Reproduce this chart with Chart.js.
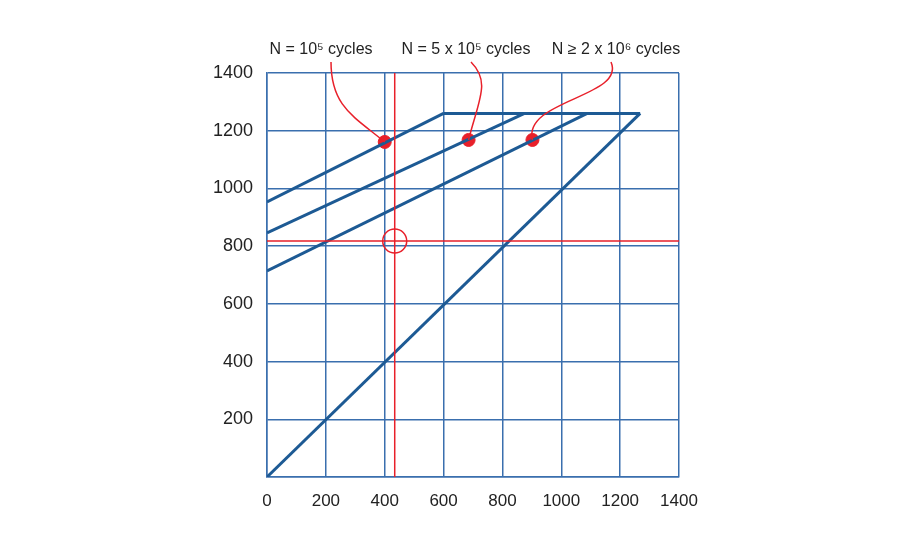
<!DOCTYPE html>
<html><head><meta charset="utf-8">
<script src="https://cdn.jsdelivr.net/npm/chart.js@4"></script>
<style>body{margin:0;background:#fff}#wrap{width:900px;height:550px}</style>
</head><body><div id="wrap"><canvas id="c"></canvas></div>
<script>
const xTicks = [0, 200, 400, 600, 800, 1000, 1200, 1400];
const yTicks = [0, 200, 400, 600, 800, 1000, 1200, 1400];
const diagonal = [[0, 0], [1268, 1260]];
const topLine = [[600, 1260], [1268, 1260]];
const line1e5 = [[0, 953], [600, 1260]];
const line5e5 = [[0, 846], [875, 1260]];
const line2e6 = [[0, 714], [1088, 1260]];
const points = [[400, 1161], [685, 1168], [902, 1168]];
const labels = ["N = 10⁵ cycles", "N = 5 x 10⁵ cycles", "N ≥ 2 x 10⁶ cycles"];
const redX = 434, redY = 818;

const blue = "#1d5a94", grid = "#3a6fae", red = "#e8202a";
const pts = a => a.map(p => ({ x: p[0], y: p[1] }));
const lineDs = d => ({ data: pts(d), borderColor: blue, borderWidth: 3, pointRadius: 0, showLine: true });

const overlay = {
  id: "overlay",
  afterDatasetsDraw(ch) {
    const { ctx, scales: { x, y }, chartArea: a } = ch;
    ctx.save();
    ctx.strokeStyle = red; ctx.lineWidth = 1.5;
    ctx.beginPath();
    ctx.moveTo(x.getPixelForValue(redX), a.top); ctx.lineTo(x.getPixelForValue(redX), a.bottom);
    ctx.moveTo(a.left, y.getPixelForValue(redY)); ctx.lineTo(a.right, y.getPixelForValue(redY));
    ctx.stroke();
    ctx.beginPath();
    ctx.arc(x.getPixelForValue(redX), y.getPixelForValue(redY), 12, 0, Math.PI * 2);
    ctx.stroke();
    ctx.fillStyle = "#222"; ctx.font = "16px 'Liberation Sans', Arial";
    ctx.textAlign = "center"; ctx.textBaseline = "middle";
    const lx = [321, 466, 616];
    const bend = [[0, 45, -30, 25], [20, 20, 10, 40], [15, 35, -10, 40]];
    points.forEach((p, i) => {
      ctx.fillText(labels[i], lx[i], 50);
      const px = x.getPixelForValue(p[0]), py = y.getPixelForValue(p[1]);
      const sx = lx[i] + (i === 0 ? 10 : i === 1 ? 5 : -5), sy = 62;
      ctx.beginPath();
      ctx.moveTo(sx, sy);
      ctx.bezierCurveTo(sx + bend[i][0], sy + bend[i][1], px + bend[i][2], py - bend[i][3], px, py);
      ctx.stroke();
    });
    ctx.restore();
  }
};

new Chart(document.getElementById("c"), {
  type: "scatter",
  data: {
    datasets: [
      lineDs(diagonal), lineDs(topLine), lineDs(line1e5), lineDs(line5e5), lineDs(line2e6),
      { data: pts(points), pointRadius: 6.5, pointBackgroundColor: red, pointBorderColor: red, showLine: false }
    ]
  },
  options: {
    responsive: true, maintainAspectRatio: false, animation: false,
    layout: { padding: { left: 195, right: 221, top: 73, bottom: 20 } },
    plugins: { legend: { display: false }, tooltip: { enabled: false } },
    scales: {
      x: {
        min: 0, max: 1400,
        afterBuildTicks: s => { s.ticks = xTicks.map(v => ({ value: v })); },
        grid: { color: grid, lineWidth: 1.5, drawTicks: false },
        border: { color: grid, width: 1.5 },
        ticks: { color: "#222", font: { size: 17, family: "'Liberation Sans', Arial" }, padding: 14, maxRotation: 0,
          callback: v => String(v) },
        afterFit: s => { s.height = 53; }
      },
      y: {
        min: 0, max: 1400,
        afterBuildTicks: s => { s.ticks = yTicks.map(v => ({ value: v })); },
        grid: { color: grid, lineWidth: 1.5, drawTicks: false },
        border: { color: grid, width: 1.5 },
        ticks: { color: "#222", font: { size: 18, family: "'Liberation Sans', Arial" }, padding: 14,
          callback: v => v === 0 ? "" : String(v) },
        afterFit: s => { s.width = 72; }
      }
    }
  },
  plugins: [overlay]
});
</script></body></html>
